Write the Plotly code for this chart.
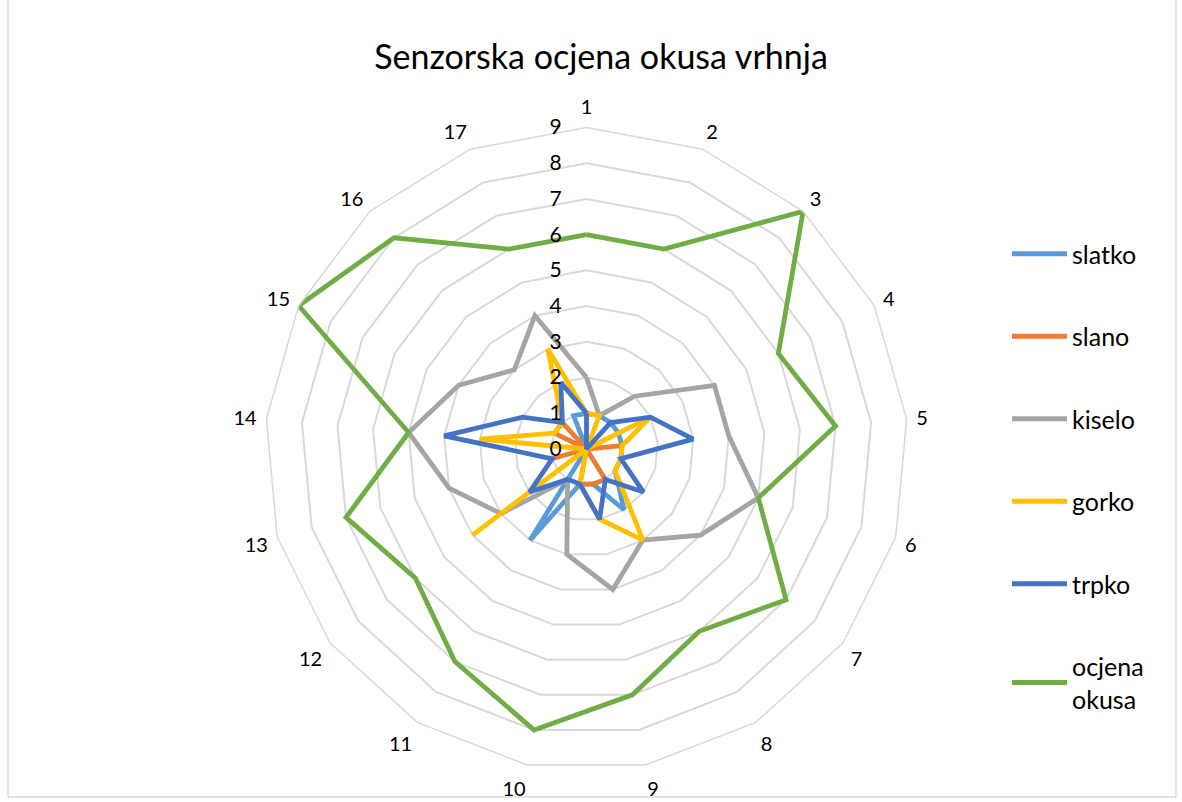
import plotly.graph_objects as go

categories = [str(i) for i in range(1, 18)]
series_names = ["slatko", "slano", "kiselo", "gorko", "trpko", "ocjena<br>okusa"]
slatko = [1, 1, 1, 1, 1, 1, 1, 2, 1, 1, 3, 0, 0, 0, 0, 0, 1]
slano = [0, 0, 0, 0, 1, 0, 0, 1, 1, 1, 0, 0, 1, 0, 1, 1, 0]
kiselo = [2, 1, 2, 4, 4, 5, 4, 3, 4, 3, 1, 3, 4, 5, 4, 3, 4]
gorko = [1, 1, 0, 2, 1, 1, 1, 3, 2, 1, 0, 4, 0, 3, 1, 1, 3]
trpko = [1, 0, 1, 2, 3, 1, 2, 1, 2, 1, 1, 2, 1, 4, 2, 1, 2]
ocjena_okusa = [6, 6, 9, 6, 7, 5, 7, 6, 7, 8, 7, 6, 7, 5, 9, 8, 6]
radial_ticks = list(range(0, 10))

colors = ["#5B9BD5", "#ED7D31", "#A5A5A5", "#FFC000", "#4472C4", "#70AD47"]
all_series = [slatko, slano, kiselo, gorko, trpko, ocjena_okusa]

FONT = "Lato"
W, H = 1182, 802
cx, cy, R = 586.5, 449.0, 321.5

fig = go.Figure()
for name, vals, col in zip(series_names, all_series, colors):
    fig.add_trace(go.Scatterpolar(
        r=vals + [vals[0]],
        theta=categories + [categories[0]],
        mode="lines",
        name=name,
        legendgroup=name,
        line=dict(color=col, width=4.8),
    ))

fig.update_layout(
    width=W, height=H,
    margin=dict(l=0, r=0, t=0, b=0),
    paper_bgcolor="white",
    plot_bgcolor="white",
    font=dict(family=FONT, color="#000000"),
    title=dict(text="Senzorska ocjena okusa vrhnja", x=601 / W, xanchor="center",
               y=1 - 57 / H, yanchor="middle",
               font=dict(family=FONT, size=34, color="#000000")),
    polar=dict(
        domain=dict(x=[(cx - R) / W, (cx + R) / W], y=[1 - (cy + R) / H, 1 - (cy - R) / H]),
        bgcolor="white",
        gridshape="linear",
        angularaxis=dict(
            type="category",
            categoryorder="array",
            categoryarray=categories,
            direction="clockwise",
            rotation=90,
            showgrid=False,
            showline=True,
            linecolor="#D9D9D9",
            linewidth=1.5,
            ticks="outside",
            ticklen=5,
            tickcolor="rgba(0,0,0,0)",
            tickfont=dict(family=FONT, size=20, color="#000000"),
        ),
        radialaxis=dict(
            range=[0, 9],
            tickvals=radial_ticks,
            ticktext=[str(v) for v in radial_ticks],
            showline=False,
            showgrid=True,
            gridcolor="#D9D9D9",
            gridwidth=1.5,
            angle=90,
            tickangle=90,
            side="counterclockwise",
            ticks="outside",
            ticklen=17,
            tickcolor="rgba(0,0,0,0)",
            tickfont=dict(family=FONT, size=21, color="#000000"),
        ),
    ),
    legend=dict(
        x=1007 / W, xanchor="left",
        y=1 - 231 / H, yanchor="top",
        font=dict(family=FONT, size=25, color="#000000"),
        tracegroupgap=47,
        itemwidth=55,
        bgcolor="rgba(0,0,0,0)",
    ),
    showlegend=True,
)

fig.add_shape(type="rect", xref="paper", yref="paper",
              x0=8 / W, x1=1176 / W, y0=1 - 797 / H, y1=1 + 2 / H,
              line=dict(color="#D9D9D9", width=1.3), fillcolor="rgba(0,0,0,0)", layer="below")

fig.write_html("out.html", post_script="document.body.style.margin='0';",
               config={"displayModeBar": False})
